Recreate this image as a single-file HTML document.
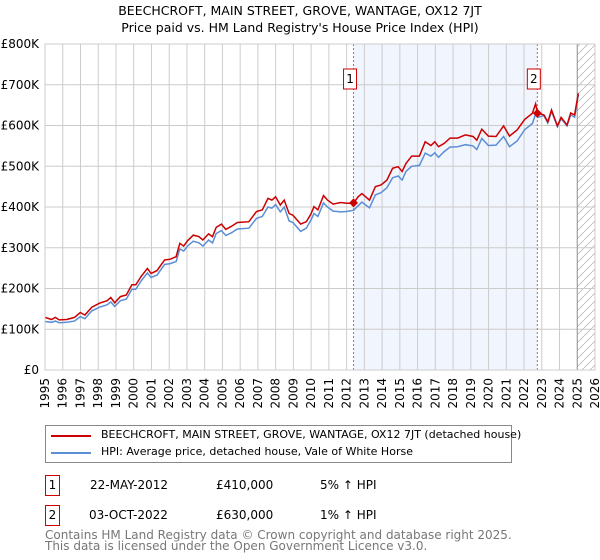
<!DOCTYPE html>
<html><head><meta charset="utf-8"><style>
body{margin:0;background:#fff;font-family:"DejaVu Sans","Liberation Sans",sans-serif;}
#wrap{position:relative;width:600px;height:560px;overflow:hidden;}
.t{position:absolute;white-space:nowrap;font-size:12px;color:#000;}
.box{position:absolute;border:1.5px solid #c00;font-size:12px;text-align:center;box-sizing:border-box;background:#fff;}
</style></head><body><div id="wrap">
<div class="t" style="left:0;width:600px;text-align:center;top:3px;font-size:12.5px">BEECHCROFT, MAIN STREET, GROVE, WANTAGE, OX12 7JT</div>
<div class="t" style="left:0;width:600px;text-align:center;top:20px;font-size:12.5px">Price paid vs. HM Land Registry's House Price Index (HPI)</div>
<svg id="chart" width="600" height="420" style="position:absolute;left:0;top:0" font-family="DejaVu Sans, Liberation Sans, sans-serif"></svg>
<div style="position:absolute;left:45px;top:425px;width:467px;height:38px;border:1px solid #888;box-sizing:border-box">
<div><div style="position:absolute;left:5px;top:9px;width:40px;height:2px;background:#c00"></div><div class="t" style="left:55px;top:2px;font-size:11px">BEECHCROFT, MAIN STREET, GROVE, WANTAGE, OX12 7JT (detached house)</div></div>
<div><div style="position:absolute;left:5px;top:26px;width:40px;height:2px;background:#5b8ed6"></div><div class="t" style="left:55px;top:19px;font-size:11px">HPI: Average price, detached house, Vale of White Horse</div></div>
</div>
<div>
<div class="box" style="left:45px;top:475px;width:15px;height:21px;line-height:19px">1</div>
<div class="t" style="left:90px;top:478px">22-MAY-2012</div><div class="t" style="left:216px;top:478px">£410,000</div><div class="t" style="left:320px;top:478px">5% ↑ HPI</div></div>
<div>
<div class="box" style="left:45px;top:505px;width:15px;height:21px;line-height:19px">2</div>
<div class="t" style="left:89px;top:508px">03-OCT-2022</div><div class="t" style="left:216px;top:508px">£630,000</div><div class="t" style="left:320px;top:508px">1% ↑ HPI</div></div>
<div class="t" style="left:45px;top:530px;color:#777;line-height:11px">Contains HM Land Registry data © Crown copyright and database right 2025.<br>This data is licensed under the Open Government Licence v3.0.</div>
</div>
<script>
const redYears=[1995.0,1995.37,1995.58,1995.8,1996.23,1996.66,1996.99,1997.25,1997.64,1998.07,1998.5,1998.71,1998.93,1999.25,1999.58,1999.9,2000.12,2000.44,2000.77,2000.98,2001.31,2001.74,2002.06,2002.39,2002.6,2002.82,2003.03,2003.36,2003.68,2003.9,2004.22,2004.44,2004.65,2004.94,2005.19,2005.52,2005.84,2006.49,2006.92,2007.25,2007.57,2007.79,2008.0,2008.26,2008.48,2008.76,2008.97,2009.41,2009.73,2009.99,2010.16,2010.38,2010.7,2010.92,2011.24,2011.67,2012.0,2012.39,2012.65,2012.86,2013.29,2013.62,2013.94,2014.27,2014.59,2014.91,2015.13,2015.35,2015.67,2016.1,2016.43,2016.75,2016.97,2017.18,2017.5,2017.83,2018.26,2018.69,2019.13,2019.34,2019.62,2019.99,2020.42,2020.85,2021.18,2021.61,2022.04,2022.47,2022.65,2022.77,2023.12,2023.34,2023.55,2023.88,2024.09,2024.42,2024.63,2024.85,2025.06];
const redValues=[129,124,129,123,124,129,141,135,154,164,170,178,165,180,184,209,209,231,249,237,244,270,272,278,311,304,317,331,327,319,334,327,350,358,345,353,362,364,389,393,421,417,425,405,417,384,380,358,364,383,401,393,428,417,407,411,409,409,425,433,417,450,454,466,495,499,487,507,525,525,560,551,560,548,556,569,569,577,573,564,591,574,573,599,574,589,615,630,653,630,626,609,638,599,620,601,631,626,679];
const hpiValues=[119,117,120,116,117,120,131,126,145,154,160,167,156,170,174,198,198,220,238,227,233,259,261,266,297,292,304,316,312,304,319,312,335,342,330,337,346,348,372,377,400,397,406,388,400,366,362,340,348,368,384,377,410,400,390,388,389,392,403,412,398,430,435,447,472,476,466,487,500,502,532,525,533,522,536,547,548,553,550,541,568,551,552,573,548,562,590,605,628,620,624,606,635,597,617,599,626,620,675];
const yTicks=[0,100,200,300,400,500,600,700,800];
const yTickLabels=["£0","£100K","£200K","£300K","£400K","£500K","£600K","£700K","£800K"];
const xTickYears=[1995,1996,1997,1998,1999,2000,2001,2002,2003,2004,2005,2006,2007,2008,2009,2010,2011,2012,2013,2014,2015,2016,2017,2018,2019,2020,2021,2022,2023,2024,2025,2026];
const saleYears=[2012.39,2022.75];
const saleValues=[410,630];
const saleLabels=["1","2"];
const NS="http://www.w3.org/2000/svg";
const L=45,R=595,T=44,B=370;
const x=y=>L+(y-1995)*(R-L)/31;
const yv=v=>B-v*(B-T)/800;
const svg=document.getElementById('chart');
function mk(tag,attrs){const e=document.createElementNS(NS,tag);for(const k in attrs)e.setAttribute(k,attrs[k]);svg.appendChild(e);return e;}
let r=mk('rect',{x:x(saleYears[0]),y:T,width:x(saleYears[1])-x(saleYears[0]),height:B-T,fill:'#eef3fc',opacity:0.8});


const defs=document.createElementNS(NS,'defs');defs.innerHTML='<pattern id="h" width="8" height="8" patternUnits="userSpaceOnUse"><path d="M0,8 L8,0" stroke="#bbb" stroke-width="0.8"/></pattern>';svg.appendChild(defs);
let hz=mk('rect',{x:x(2025),y:T,width:R-x(2025),height:B-T,fill:'url(#h)'});


xTickYears.forEach(yr=>{const g=mk('line',{x1:x(yr),x2:x(yr),y1:T,y2:B,stroke:'#ccc','stroke-width':1});


const t=mk('text',{x:0,y:0,'font-size':12,'text-anchor':'end',transform:`translate(${x(yr)+4},${B+8}) rotate(-90)`});t.textContent=yr;

});
yTicks.forEach((v,i)=>{const g=mk('line',{x1:L,x2:R,y1:yv(v),y2:yv(v),stroke:'#ccc','stroke-width':1});


const t=mk('text',{x:L-6,y:yv(v)+4,'font-size':12,'text-anchor':'end'});t.textContent=yTickLabels[i];

});
let bl=mk('line',{x1:x(2025),x2:x(2025),y1:T,y2:B,stroke:'#999','stroke-width':1});


saleYears.forEach((s,i)=>{const d=mk('line',{x1:x(s),x2:x(s),y1:T,y2:B,stroke:'#e55','stroke-width':1,'stroke-dasharray':'2,2'});

});
const pts=(ys,vs)=>ys.map((yr,i)=>x(yr).toFixed(1)+','+yv(vs[i]).toFixed(1)).join(' ');
let hp=mk('polyline',{points:pts(redYears,hpiValues),fill:'none',stroke:'#5b8ed6','stroke-width':1.5});


let rp=mk('polyline',{points:pts(redYears,redValues),fill:'none',stroke:'#cc0000','stroke-width':1.5});


saleYears.forEach((s,i)=>{const cx=x(s),cy=yv(saleValues[i]);
const p=mk('path',{d:`M${cx},${cy-4.5}L${cx+4.5},${cy}L${cx},${cy+4.5}L${cx-4.5},${cy}Z`,fill:'#cc0000'});


const b=mk('rect',{x:cx-10,y:69,width:13,height:20,fill:'#fff',stroke:'#cc0000','stroke-width':1});


const t=mk('text',{x:cx-3.5,y:83,'font-size':12,'text-anchor':'middle'});t.textContent=saleLabels[i];

});
let ax=mk('rect',{x:L,y:T,width:R-L,height:B-T,fill:'none',stroke:'#ccc'});


</script></body></html>
